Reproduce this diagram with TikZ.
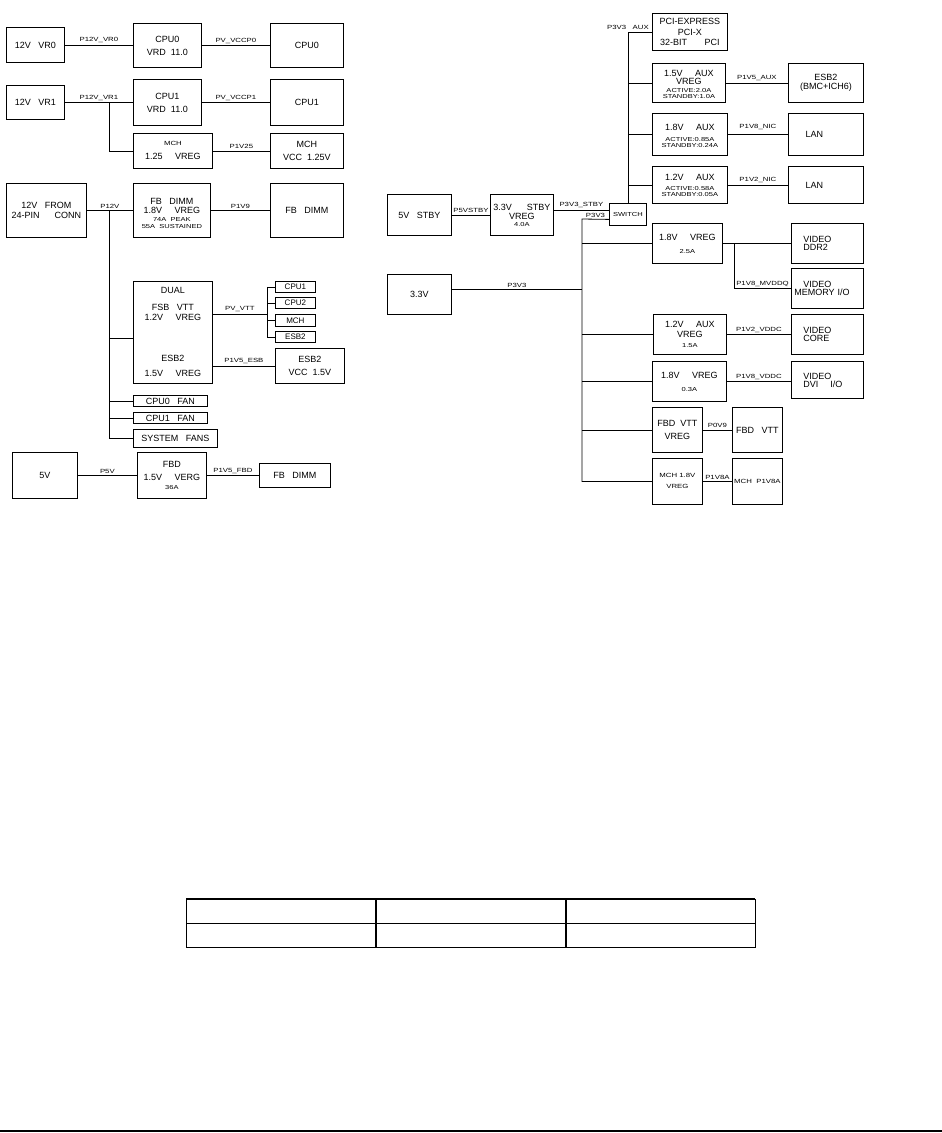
\documentclass[tikz,border=0pt]{standalone}
\usepackage{fontspec}
\setmainfont{Liberation Sans}
\newfontfamily\widefont[FakeStretch=1.3]{Liberation Sans}
\newcommand{\lblf}{\widefont\fontsize{6}{7}\selectfont}
\newcommand{\tinyf}{\widefont\fontsize{5.8}{6}\selectfont}
\newcommand{\boxf}{\fontsize{9}{11}\selectfont}

\begin{document}
\begin{tikzpicture}[
      x=1pt, y=-1pt,
      blk/.style={
        rectangle,
        draw=black,
        line width=0.8pt,
        anchor=north west,
        inner sep=0pt,
        align=center,
        font=\boxf
      },
      sml/.style={blk, font=\fontsize{8}{9}\selectfont},
      vid/.style={blk, align=left, text width=48pt},
      lbl/.style={font=\lblf, inner sep=1.5pt},
      wire/.style={line width=0.8pt}
    ]
    \useasboundingbox (0,0) rectangle (942,1133);

    % left side
    \node [blk, minimum width=58pt, minimum height=35pt] (vr0) at (6,27) {12V~~~VR0};
    \node [blk, minimum width=68pt, minimum height=44pt] (vrd0) at (133,23) {CPU0\\[2pt]VRD~~11.0};
    \node [blk, minimum width=73pt, minimum height=44pt] (cpu0) at (270,23) {CPU0};
    \node [blk, minimum width=58pt, minimum height=34pt] (vr1) at (6,85) {12V~~~VR1};
    \node [blk, minimum width=68pt, minimum height=46pt] (vrd1) at (133,79) {CPU1\\[2pt]VRD~~11.0};
    \node [blk, minimum width=73pt, minimum height=46pt] (cpu1) at (270,79) {CPU1};
    \node [blk, minimum width=79pt, minimum height=35pt] (mchreg) at (133,133) {{\lblf MCH}\\[3pt]1.25~~~~~VREG};
    \node [blk, minimum width=73pt, minimum height=35pt] (mchvcc) at (270,133) {MCH\\[2pt]VCC~~1.25V};
    \node [blk, minimum width=80pt, minimum height=54pt] (conn) at (6,183) {12V~~~FROM\\[-1pt]24-PIN~~~~~~CONN};
    \node [blk, minimum width=77pt, minimum height=54pt] (fbreg) at (133,183) {\rule{0pt}{12pt}FB~~~DIMM\\[-2pt]1.8V~~~~~VREG\\[-3pt]{\tinyf 74A~~PEAK}\\[-4pt]{\tinyf 55A~~SUSTAINED}};
    \node [blk, minimum width=73pt, minimum height=54pt] (fbdimm) at (270,183) {FB~~~DIMM};
    \node [blk, minimum width=79pt, minimum height=102pt] (dual) at (133,281) {DUAL\\[6pt]FSB~~~VTT\\[-1pt]1.2V~~~~~VREG\\[30pt]ESB2\\[4pt]1.5V~~~~~VREG};
    \node [sml, minimum width=40pt, minimum height=11pt] (scpu1) at (275,281) {CPU1};
    \node [sml, minimum width=40pt, minimum height=11pt] (scpu2) at (275,297) {CPU2};
    \node [sml, minimum width=40pt, minimum height=12pt] (smch) at (275,314) {MCH};
    \node [sml, minimum width=40pt, minimum height=11pt] (sesb) at (275,331) {ESB2};
    \node [blk, minimum width=69pt, minimum height=35pt] (esbvcc) at (275,348) {ESB2\\[2pt]VCC~~1.5V};
    \node [blk, minimum width=74pt, minimum height=11pt] (fan0) at (133,395) {CPU0~~~FAN};
    \node [blk, minimum width=74pt, minimum height=11pt] (fan1) at (133,412) {CPU1~~~FAN};
    \node [blk, minimum width=84pt, minimum height=18pt] (sysfan) at (133,429) {SYSTEM~~~FANS};
    \node [blk, minimum width=65pt, minimum height=46pt] (v5) at (12,452) {5V};
    \node [blk, minimum width=69pt, minimum height=46pt] (fbd) at (137,452) {FBD\\[2pt]1.5V~~~~~VERG\\[-2pt]{\tinyf 36A}};
    \node [blk, minimum width=71pt, minimum height=24pt] (fbd2) at (259,463) {FB~~~DIMM};

    \draw [wire] (vr0.east) -- node [lbl, above] {P12V\_VR0} (vr0.east -| vrd0.west);
    \draw [wire] (vrd0.east) -- node [lbl, above] {PV\_VCCP0} (vrd0.east -| cpu0.west);
    \draw [wire] (vr1.east) -- node [lbl, above] {P12V\_VR1} (vr1.east -| vrd1.west);
    \draw [wire] (vrd1.east) -- node [lbl, above] {PV\_VCCP1} (vrd1.east -| cpu1.west);
    \coordinate (t1) at (109,102);
    \draw [wire] (t1) |- (mchreg.west);
    \draw [wire] (mchreg.east) -- node [lbl, above] {P1V25} (mchvcc.west);
    \draw [wire] (conn.east) -- node [lbl, above] {P12V} (fbreg.west);
    \draw [wire] (fbreg.east) -- node [lbl, above] {P1V9} (fbdimm.west);
    \coordinate (t2) at (109,210);
    \draw [wire] (t2) |- (sysfan.west);
    \draw [wire] ([yshift=-6pt]dual.west -| t2) -- ([yshift=-6pt]dual.west);
    \draw [wire] (fan0.west -| t2) -- (fan0.west);
    \draw [wire] (fan1.west -| t2) -- (fan1.west);
    \coordinate (vtt) at (267,314);
    \draw [wire] (dual.east |- vtt) -- node [lbl, above] {PV\_VTT} (vtt);
    \draw [wire] (vtt |- scpu1.west) -- (vtt |- sesb.west);
    \draw [wire] (vtt |- scpu1.west) -- (scpu1.west);
    \draw [wire] (vtt |- scpu2.west) -- (scpu2.west);
    \draw [wire] (vtt |- smch.west) -- (smch.west);
    \draw [wire] (vtt |- sesb.west) -- (sesb.west);
    \draw [wire] (esbvcc.west -| dual.east) -- node [lbl, above] {P1V5\_ESB} (esbvcc.west);
    \draw [wire] (v5.east) -- node [lbl, above] {P5V} (v5.east -| fbd.west);
    \draw [wire] (fbd.east |- fbd2.west) -- node [lbl, above] {P1V5\_FBD} (fbd2.west);

    % right side
    \node [blk, minimum width=75pt, minimum height=37pt] (pcie) at (652,13) {PCI-EXPRESS\\[0pt]PCI-X\\[-1pt]32-BIT~~~~~~~PCI};
    \node [blk, minimum width=73pt, minimum height=39pt] (v15) at (652,63) {\rule{0pt}{9pt}1.5V~~~~~AUX\\[-3pt]VREG\\[-3pt]{\tinyf ACTIVE:2.0A}\\[-5pt]{\tinyf STANDBY:1.0A}};
    \node [blk, minimum width=75pt, minimum height=39pt] (esb2) at (788,63) {ESB2\\[-2pt](BMC+ICH6)};
    \node [blk, minimum width=75pt, minimum height=42pt] (v18aux) at (652,113) {\rule{0pt}{9pt}1.8V~~~~~AUX\\[0pt]{\tinyf ACTIVE:0.85A}\\[-5pt]{\tinyf STANDBY:0.24A}};
    \node [blk, minimum width=75pt, minimum height=42pt] (lan1) at (788,113) {LAN\hspace{23pt}};
    \node [blk, minimum width=75pt, minimum height=37pt] (v12aux) at (652,166) {1.2V~~~~~AUX\\[-1pt]{\tinyf ACTIVE:0.58A}\\[-5pt]{\tinyf STANDBY:0.05A}};
    \node [blk, minimum width=75pt, minimum height=37pt] (lan2) at (788,166) {LAN\hspace{23pt}};
    \node [blk, minimum width=64pt, minimum height=41pt] (stby5) at (387,194) {5V~~~STBY};
    \node [blk, minimum width=63pt, minimum height=41pt] (stby33) at (490,194) {3.3V~~~~~~STBY\\[-2pt]VREG\\[-4pt]{\tinyf 4.0A}};
    \node [blk, minimum width=37pt, minimum height=22pt, font=\tinyf] (switch) at (609,203) {SWITCH};
    \node [blk, minimum width=70pt, minimum height=40pt] (v18) at (652,223) {1.8V~~~~~VREG\\[2pt]{\tinyf 2.5A}\hspace{14pt}};
    \node [vid, minimum width=72pt, minimum height=40pt] (ddr2) at (791,223) {VIDEO\\[-3pt]DDR2};
    \node [vid, minimum width=72pt, minimum height=40pt, text width=66pt] (vidmem) at (791,268) {\hspace*{9pt}VIDEO\\[-3pt]MEMORY~I/O};
    \node [blk, minimum width=64pt, minimum height=40pt] (v33) at (387,274) {3.3V};
    \node [blk, minimum width=73pt, minimum height=40pt] (v12) at (653,314) {1.2V~~~~~AUX\\[-1pt]VREG\\[-1pt]{\tinyf 1.5A}};
    \node [vid, minimum width=72pt, minimum height=40pt] (vcore) at (791,314) {VIDEO\\[-3pt]CORE};
    \node [blk, minimum width=74pt, minimum height=40pt] (v18b) at (652,361) {1.8V~~~~~VREG\\[2pt]{\tinyf 0.3A}\hspace{10pt}};
    \node [vid, minimum width=72pt, minimum height=37pt] (vdvi) at (791,361) {VIDEO\\[-3pt]DVI~~~~I/O};
    \node [blk, minimum width=50pt, minimum height=45pt] (fbdvtt) at (652,407) {FBD~~VTT\\[2pt]VREG};
    \node [blk, minimum width=50pt, minimum height=45pt] (fbvtt) at (732,407) {FBD~~~VTT};
    \node [blk, minimum width=50pt, minimum height=46pt, font=\lblf] (mch18) at (652,458) {MCH~1.8V\\[4pt]VREG};
    \node [blk, minimum width=50pt, minimum height=46pt, font=\lblf] (mchp) at (732,458) {MCH~~P1V8A};

    \draw [wire] (switch.north) |- node [lbl, above] {P3V3~~~AUX} (pcie.west);
    \draw [wire] (switch.north |- v15.west) -- (v15.west);
    \draw [wire] (switch.north |- v18aux.west) -- (v18aux.west);
    \draw [wire] (switch.north |- v12aux.west) -- (v12aux.west);
    \draw [wire] (v15.east) -- node [lbl, above] {P1V5\_AUX} (v15.east -| esb2.west);
    \draw [wire] (v18aux.east) -- node [lbl, above=3pt] {P1V8\_NIC} (lan1.west);
    \draw [wire] (v12aux.east) -- node [lbl, above] {P1V2\_NIC} (lan2.west);
    \draw [wire] (stby5.east) -- node [lbl, above] {P5VSTBY} (stby33.west);
    \draw [wire] ([yshift=5pt]stby33.east) -- node [lbl, above] {P3V3\_STBY} ([yshift=5pt]stby33.east -| switch.west);
    \coordinate (tb) at (582,219);
    \draw [wire] ([yshift=-5pt]switch.west) -- node [lbl, above] {P3V3} (tb) |- (mch18.west);
    \draw [wire] ([yshift=5pt]v33.east) -- node [lbl, above] {P3V3} ([yshift=5pt]v33.east -| tb);
    \draw [wire] (tb |- v18.west) -- (v18.west);
    \draw [wire] (tb |- v12.west) -- (v12.west);
    \draw [wire] (tb |- v18b.west) -- (v18b.west);
    \draw [wire] (tb |- fbdvtt.west) -- (fbdvtt.west);
    \draw [wire] (v18.east) -- (v18.east -| ddr2.west);
    \coordinate (mv) at (734,243);
    \draw [wire] (mv) |- node [lbl, above, pos=0.75] {P1V8\_MVDDQ} (vidmem.west);
    \draw [wire] (v12.east) -- node [lbl, above] {P1V2\_VDDC} (vcore.west);
    \draw [wire] (v18b.east) -- node [lbl, above] {P1V8\_VDDC} (v18b.east -| vdvi.west);
    \draw [wire] (fbdvtt.east) -- node [lbl, above] {P0V9} (fbvtt.west);
    \draw [wire] (mch18.east) -- node [lbl, above] {P1V8A} (mchp.west);

    % table and rule
    \draw [line width=0.8pt] (186,899) rectangle (755,947);
    \draw [line width=0.8pt] (186,923) -- (755,923);
    \draw [line width=1.6pt] (186,899) -- (755,899);
    \draw [line width=1.6pt] (376,899) -- (376,947);
    \draw [line width=1.6pt] (566,899) -- (566,947);
    \draw [line width=2pt] (0,1131) -- (942,1131);

    \end{tikzpicture}
\end{document}
